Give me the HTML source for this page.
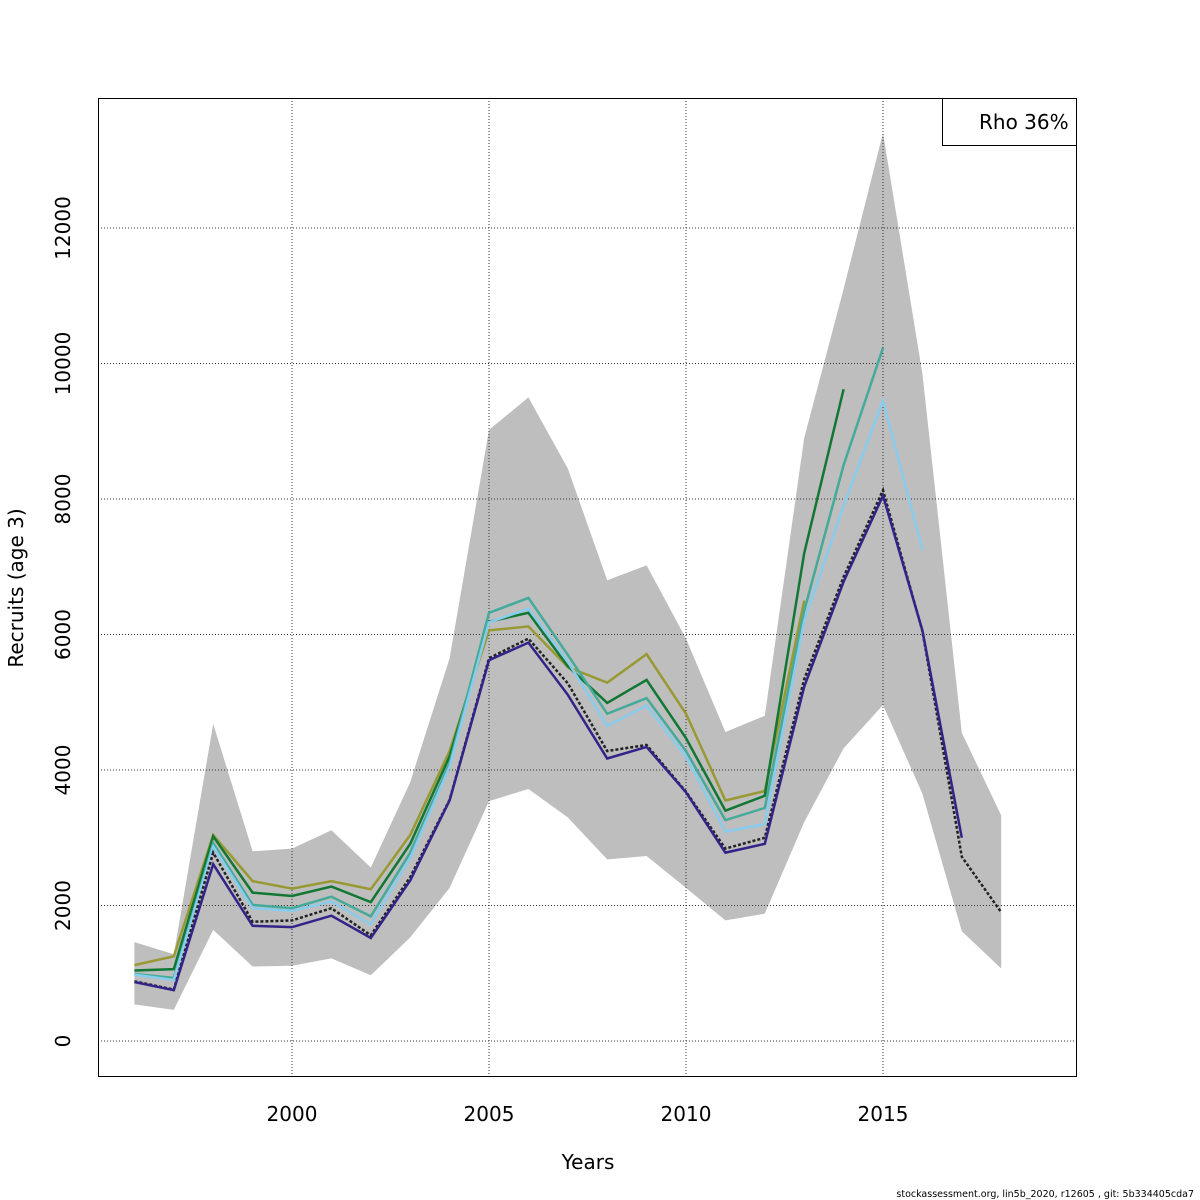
<!DOCTYPE html>
<html><head><meta charset="utf-8"><style>body{margin:0;background:#fff}svg{display:block;font-family:"DejaVu Sans","Liberation Sans",sans-serif}</style></head>
<body>
<svg id="chart" width="1200" height="1200" viewBox="0 0 1200 1200"></svg>
<script>
const years=[1996,1997,1998,1999,2000,2001,2002,2003,2004,2005,2006,2007,2008,2009,2010,2011,2012,2013,2014,2015,2016,2017,2018];
const upper=[1460,1280,4680,2800,2840,3110,2560,3820,5650,9020,9500,8450,6800,7020,5940,4560,4800,8900,11100,13400,9850,4550,3330];
const lower=[540,460,1640,1100,1110,1220,970,1530,2260,3540,3720,3300,2680,2730,2260,1780,1880,3230,4320,4960,3650,1620,1070];
const run2018=[880,760,2780,1760,1780,1960,1560,2420,3560,5650,5940,5280,4280,4370,3680,2840,3000,5340,6850,8130,6050,2720,1900];
const run2017=[870,750,2610,1700,1680,1850,1520,2370,3550,5620,5880,5110,4170,4340,3670,2780,2910,5230,6780,8050,6060,3000];
const run2016=[980,900,2870,1960,1920,2060,1720,2700,4050,6180,6380,5600,4650,4950,4200,3090,3200,6200,7900,9450,7250];
const run2015=[990,930,2920,2010,1960,2130,1840,2780,4100,6320,6540,5700,4830,5060,4280,3260,3440,6350,8500,10230];
const run2014=[1040,1060,3020,2190,2140,2280,2050,2910,4200,6190,6320,5530,4990,5330,4470,3400,3620,7200,9620];
const run2013=[1120,1250,3040,2360,2250,2360,2240,3040,4280,6060,6120,5520,5290,5710,4830,3550,3690,6500];
const xTicks=[2000,2005,2010,2015];
const yTicks=[0,2000,4000,6000,8000,10000,12000];

const NS="http://www.w3.org/2000/svg";
const svg=document.getElementById('chart');
const X=y=>292+(y-2000)*39.4;
const Y=v=>1041-v*0.06775;
function mk(t,a,parent){const e=document.createElementNS(NS,t);for(const k in a)e.setAttribute(k,a[k]);(parent||svg).appendChild(e);return e;}

let pts=years.map((y,i)=>X(y)+','+Y(upper[i]));
for(let i=years.length-1;i>=0;i--)pts.push(X(years[i])+','+Y(lower[i]));
const band=mk('polygon',{points:pts.join(' '),fill:'#bebebe',stroke:'none'});



xTicks.forEach(t=>{const g=mk('line',{x1:X(t),x2:X(t),y1:98,y2:1077,stroke:'#333','stroke-width':1,'stroke-dasharray':'1,2'});

});
yTicks.forEach(t=>{const g=mk('line',{x1:98,x2:1077,y1:Y(t),y2:Y(t),stroke:'#333','stroke-width':1,'stroke-dasharray':'1,2'});

});

function line(data,color,name,dash){
  const p=data.map((v,i)=>X(years[i])+','+Y(v)).join(' ');
  const a={points:p,fill:'none',stroke:color,'stroke-width':2.5};
  if(dash)a['stroke-dasharray']='3,2';
  const l=mk('polyline',a);
  
  
}
line(run2013,'#999933','series-2013');
line(run2014,'#117733','series-2014');
line(run2015,'#44aa99','series-2015');
line(run2016,'#88ccee','series-2016');
line(run2018,'#222222','series-2018',true);
line(run2017,'#332288','series-2017');

const fr=mk('rect',{x:98.5,y:98.5,width:978,height:978,fill:'none',stroke:'#000','stroke-width':1});



xTicks.forEach(t=>{const tx=mk('text',{x:X(t),y:1121,'text-anchor':'middle','font-size':20});tx.textContent=t;

});
yTicks.forEach(t=>{const tx=mk('text',{x:0,y:0,'text-anchor':'middle','font-size':20,transform:`translate(70,${Y(t)}) rotate(-90)`});tx.textContent=t;

});
</script>
<svg style="position:absolute;left:0;top:0" width="1200" height="1200">
<g font-family="DejaVu Sans, Liberation Sans, sans-serif">
<rect x="942.5" y="98.5" width="134" height="47" fill="#fff" stroke="#000"/>
<text x="979" y="129" font-size="20">Rho 36%</text>
<text x="588" y="1169" font-size="20" text-anchor="middle">Years</text>
<text transform="translate(23,588) rotate(-90)" font-size="20" text-anchor="middle">Recruits (age 3)</text>
<text x="1194" y="1197" font-size="9.5" text-anchor="end">stockassessment.org, lin5b_2020, r12605 , git: 5b334405cda7</text>
</g></svg>
</body></html>
